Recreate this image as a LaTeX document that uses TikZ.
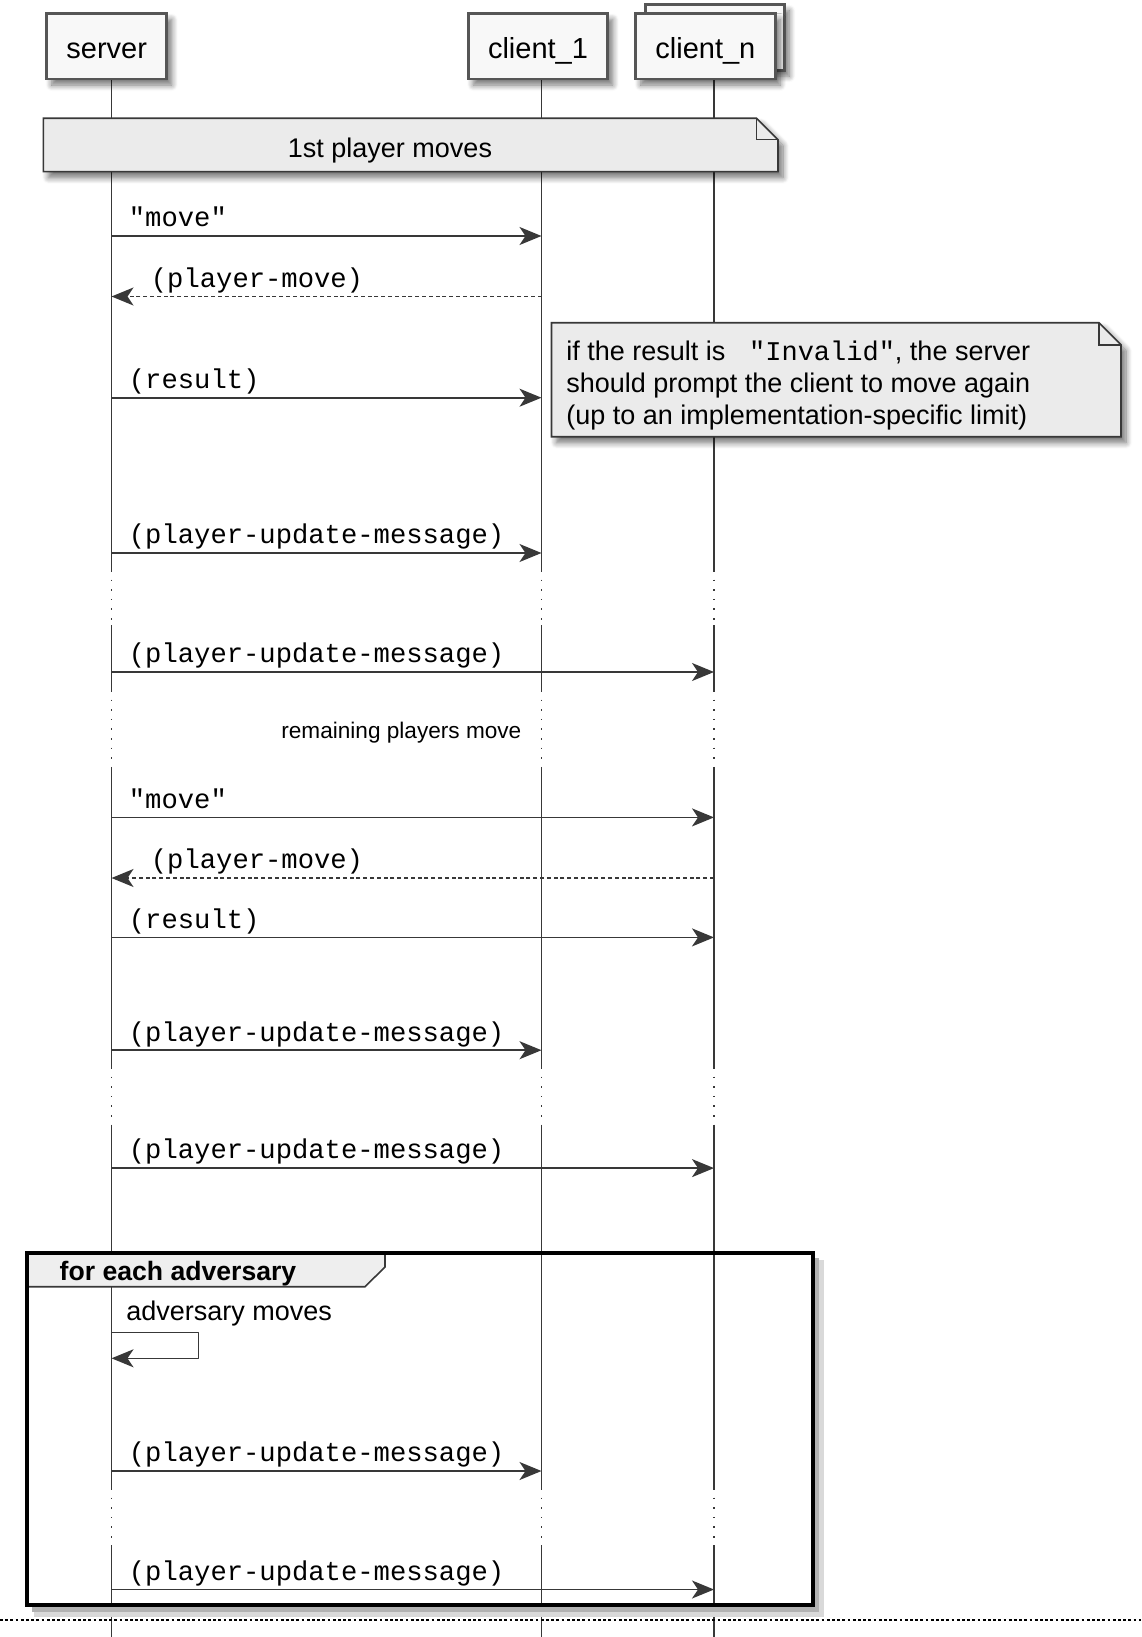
\documentclass[tikz,border=0pt]{standalone}
\usepackage{fontspec}
\setmainfont{Liberation Sans}
\setmonofont{Liberation Mono}
\usetikzlibrary{arrows.meta,shadows.blur}

\definecolor{ink}{HTML}{383838}
\definecolor{boxfill}{HTML}{F8F8F8}
\definecolor{notefill}{HTML}{EBEBEB}
\definecolor{tabfill}{HTML}{EEEEEE}

\tikzset{
  softshadow/.style={blur shadow={shadow xshift=2.5pt,shadow yshift=-3pt,shadow blur radius=3pt,
    shadow blur steps=8,shadow opacity=55}},
  actor/.style={draw=ink!85,line width=1.4pt,fill=boxfill,softshadow,minimum height=32.75pt,
    inner sep=0pt,text height=12.5pt,text depth=0.5pt,font=\fontsize{14.5}{17}\selectfont},
  life/.style={ink,line width=0.7pt},
  delay/.style={ink,line width=0.8pt,dash pattern=on 0.8pt off 4pt},
  msg/.style={ink,line width=0.8pt,line join=round,-{Stealth[length=11pt,width=9pt,inset=3pt]}},
  reply/.style={msg,dash pattern=on 2pt off 1.4pt},
  lbl/.style={anchor=base west,inner sep=0pt,font=\fontsize{13.6}{16}\selectfont\ttfamily},
  notebox/.style={draw=ink,line width=0.8pt,fill=notefill,softshadow},
  txt/.style={anchor=base west,inner sep=0pt,font=\fontsize{13.5}{16}\selectfont},
}

\begin{document}
\begin{tikzpicture}[x=0.5pt,y=-0.5pt]
  \useasboundingbox (0,0) rectangle (1141,1637);
  % lifelines
  \coordinate (srv) at (111.5,79);
  \coordinate (cl1) at (541.5,79);
  \coordinate (cln) at (714,79);
  \foreach \p in {srv,cl1,cln}{
    \foreach \a/\b in {79/570,625/690,768/1067,1125/1488,1545/1637}
      \draw[life] (\p |- 0,\a) -- (\p |- 0,\b);
    \foreach \a/\b in {570/625,690/768,1067/1125,1488/1545}
      \draw[delay] (\p |- 0,\a) -- (\p |- 0,\b);
  }

  % participants
  \node[actor,minimum width=60pt] (server) at (106.7,46.3) {server};
  \node[actor,minimum width=69.7pt] (client1) at (538,46.3) {client\_1};
  \node[actor,minimum width=69.3pt] (clientback) at (715,37.5) {};
  \node[actor,minimum width=69.7pt] (clientn) at (705.4,46.3) {client\_n};

  % note over all
  \draw[notebox] (43.4,118.3) -- (756.6,118.3) -- (778,139.7) -- (778,171.7) -- (43.4,171.7) -- cycle;
  \draw[ink,line width=0.8pt] (756.6,118.3) |- (778,139.7);
  \node[txt,anchor=base] (firstmove) at (390,157.7) {1st player moves};

  % first player
  \coordinate (m1) at (0,236);
  \draw[msg] (srv |- m1) -- (cl1 |- m1);
  \node[lbl] (t1) at ([xshift=8.5pt,yshift=4.6pt]srv |- m1) {"move"};
  \coordinate (m2) at (0,296.5);
  \draw[reply] (cl1 |- m2) -- (srv |- m2);
  \node[lbl] (t2) at ([xshift=19.5pt,yshift=4.6pt]srv |- m2) {(player-move)};
  \coordinate (m3) at (0,397.7);
  \draw[msg] (srv |- m3) -- (cl1 |- m3);
  \node[lbl] (t3) at ([xshift=8.5pt,yshift=4.6pt]srv |- m3) {(result)};

  % note on invalid result
  \draw[notebox] (551.5,322.7) -- (1099,322.7) -- (1121,344.7) -- (1121,436.7) -- (551.5,436.7) -- cycle;
  \draw[ink,line width=0.8pt] (1099,322.7) |- (1121,344.7);
  \node[txt] (inv1) at (566,360) {if the result is \texttt{ "Invalid"}, the server};
  \node[txt] (inv2) at (566,392) {should prompt the client to move again};
  \node[txt] (inv3) at (566,424.5) {(up to an implementation-specific limit)};

  \coordinate (m4) at (0,553);
  \draw[msg] (srv |- m4) -- (cl1 |- m4);
  \node[lbl] (t4) at ([xshift=8.5pt,yshift=4.6pt]srv |- m4) {(player-update-message)};
  \coordinate (m5) at (0,672);
  \draw[msg] (srv |- m5) -- (cln |- m5);
  \node[lbl] (t5) at ([xshift=8.5pt,yshift=4.6pt]srv |- m5) {(player-update-message)};

  \node[anchor=base west,inner sep=0pt,font=\fontsize{11.3}{13}\selectfont] (remain) at (281,738) {remaining players move};

  % last player
  \coordinate (m6) at (0,817.4);
  \draw[msg] (srv |- m6) -- (cln |- m6);
  \node[lbl] (t6) at ([xshift=8.5pt,yshift=4.6pt]srv |- m6) {"move"};
  \coordinate (m7) at (0,878);
  \draw[reply] (cln |- m7) -- (srv |- m7);
  \node[lbl] (t7) at ([xshift=19.5pt,yshift=4.6pt]srv |- m7) {(player-move)};
  \coordinate (m8) at (0,937.4);
  \draw[msg] (srv |- m8) -- (cln |- m8);
  \node[lbl] (t8) at ([xshift=8.5pt,yshift=4.6pt]srv |- m8) {(result)};
  \coordinate (m9) at (0,1050.2);
  \draw[msg] (srv |- m9) -- (cl1 |- m9);
  \node[lbl] (t9) at ([xshift=8.5pt,yshift=4.6pt]srv |- m9) {(player-update-message)};
  \coordinate (m10) at (0,1168.1);
  \draw[msg] (srv |- m10) -- (cln |- m10);
  \node[lbl] (t10) at ([xshift=8.5pt,yshift=4.6pt]srv |- m10) {(player-update-message)};

  % loop group
  \draw[black!15,line width=4.5pt] (819,1260) |- (34,1612);
  \draw[black!30,line width=2.5pt] (816.5,1258) |- (32,1609);
  \draw[ink,line width=0.8pt,fill=tabfill] (26.5,1252.7) -- (385,1252.7) -- (385,1267) -- (365,1286.7) -- (26.5,1286.7) -- cycle;
  \draw[black,line width=2pt] (26.5,1252.7) rectangle (812.6,1605);
  \node[txt,font=\fontsize{13.3}{16}\selectfont\bfseries] (each) at (59.3,1280) {for each adversary};

  \coordinate (s1) at (0,1332.3);
  \coordinate (s2) at (0,1358.3);
  \coordinate (loopA) at (198.3,1332.3);
  \coordinate (loopB) at (198.3,1358.3);
  \draw[msg] (srv |- s1) -- (loopA) -- (loopB) -- (srv |- s2);
  \node[txt] (advmove) at (126,1320) {adversary moves};

  \coordinate (m11) at (0,1471);
  \draw[msg] (srv |- m11) -- (cl1 |- m11);
  \node[lbl] (t11) at ([xshift=8.5pt,yshift=4.6pt]srv |- m11) {(player-update-message)};
  \coordinate (m12) at (0,1589.5);
  \draw[msg] (srv |- m12) -- (cln |- m12);
  \node[lbl] (t12) at ([xshift=8.5pt,yshift=4.6pt]srv |- m12) {(player-update-message)};

  % separator
  \coordinate (sepL) at (0,1620);
  \coordinate (sepR) at (1141,1620);
  \draw[black,line width=0.9pt,dash pattern=on 1.4pt off 1.2pt] (sepL) -- (sepR);
\end{tikzpicture}
\end{document}
